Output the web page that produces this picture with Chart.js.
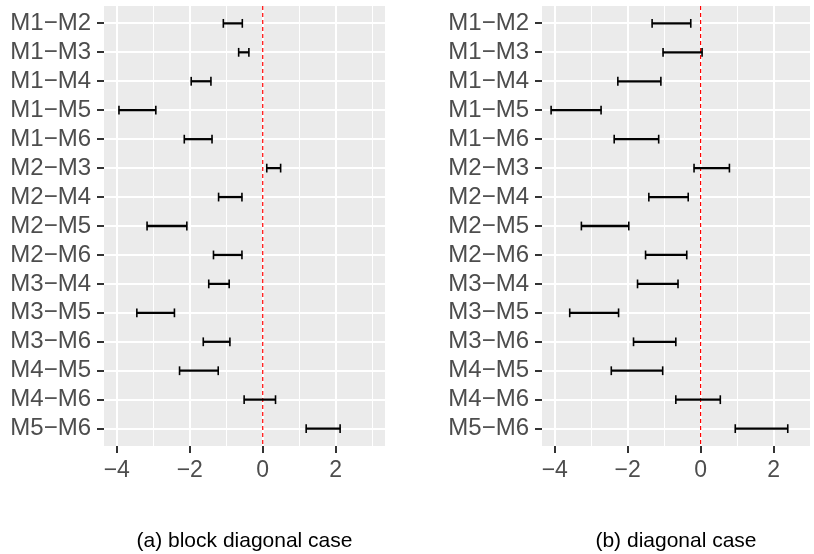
<!DOCTYPE html>
<html>
<head>
<meta charset="utf-8">
<script src="https://cdn.jsdelivr.net/npm/chart.js@4/dist/chart.umd.min.js"></script>
<style>
  html, body { margin: 0; padding: 0; background: #fff; }
  body { width: 814px; height: 554px; position: relative; overflow: hidden; }
  .panel { position: absolute; top: 0; height: 554px; }
  #left { left: 0; width: 400px; }
  #right { left: 407px; width: 407px; }
</style>
</head>
<body>
<div class="panel" id="left"><canvas id="chartA"></canvas></div>
<div class="panel" id="right"><canvas id="chartB"></canvas></div>
<script>
// pairs, top to bottom
const pairs = ['M1−M2', 'M1−M3', 'M1−M4', 'M1−M5', 'M1−M6', 'M2−M3', 'M2−M4',
               'M2−M5', 'M2−M6', 'M3−M4', 'M3−M5', 'M3−M6', 'M4−M5', 'M4−M6', 'M5−M6'];

// (a) block diagonal case: interval bounds
const blockLower = [-1.08, -0.66, -1.96, -3.94, -2.15, 0.11, -1.21, -3.17, -1.35, -1.48, -3.45, -1.63, -2.28, -0.51, 1.19];
const blockUpper = [-0.56, -0.38, -1.42, -2.93, -1.39, 0.49, -0.57, -2.08, -0.57, -0.92, -2.42, -0.90, -1.22, 0.35, 2.12];

// (b) diagonal case: interval bounds
const diagLower = [-1.33, -1.03, -2.27, -4.10, -2.37, -0.18, -1.42, -3.27, -1.51, -1.73, -3.59, -1.84, -2.45, -0.68, 0.95];
const diagUpper = [-0.27, 0.04, -1.09, -2.73, -1.15, 0.79, -0.34, -1.97, -0.38, -0.62, -2.25, -0.68, -1.04, 0.54, 2.39];

const majorTicks = [-4, -2, 0, 2];
const minorTicks = [-3, -1, 1, 3];
const refValue = 0;

Chart.defaults.font.family = "'Liberation Sans', Arial, Helvetica, sans-serif";
Chart.defaults.animation = false;

const panelBg = {
    id: 'panelBg',
    beforeDraw(chart) {
        const a = chart.chartArea, ctx = chart.ctx;
        ctx.save();
        ctx.fillStyle = '#EBEBEB';
        ctx.fillRect(a.left, a.top, a.right - a.left, a.bottom - a.top);
        ctx.restore();
    }
};

const refLine = {
    id: 'refLine',
    beforeDatasetsDraw(chart) {
        const x = chart.scales.x.getPixelForValue(refValue);
        const a = chart.chartArea, ctx = chart.ctx;
        ctx.save();
        ctx.strokeStyle = '#FF0000';
        ctx.lineWidth = 1.2;
        ctx.setLineDash([4, 3]);
        ctx.beginPath();
        ctx.moveTo(x, a.top);
        ctx.lineTo(x, a.bottom);
        ctx.stroke();
        ctx.restore();
    }
};

// end caps of the intervals
const caps = {
    id: 'caps',
    afterDatasetsDraw(chart) {
        const ctx = chart.ctx;
        const meta = chart.getDatasetMeta(0);
        ctx.save();
        ctx.strokeStyle = '#000';
        ctx.lineWidth = 1.6;
        meta.data.forEach(bar => {
            [bar.x, bar.base].forEach(px => {
                ctx.beginPath();
                ctx.moveTo(px, bar.y - 4.4);
                ctx.lineTo(px, bar.y + 4.4);
                ctx.stroke();
            });
        });
        ctx.restore();
    }
};

function makeChart(id, lower, upper, xMin, xMax, axisWidth, padRight, caption) {
    const allTicks = majorTicks.concat(minorTicks).sort((a, b) => a - b);
    const isMajor = v => majorTicks.includes(v);
    new Chart(document.getElementById(id), {
        type: 'bar',
        data: {
            datasets: [{
                data: pairs.map((p, i) => ({ x: [lower[i], upper[i]], y: i })),
                backgroundColor: '#000',
                borderWidth: 0,
                barThickness: 1.6
            }]
        },
        options: {
            indexAxis: 'y',
            responsive: true,
            maintainAspectRatio: false,
            layout: { padding: { top: 6, right: padRight, bottom: 0, left: 0 } },
            plugins: {
                legend: { display: false },
                tooltip: { enabled: false },
                title: {
                    display: true,
                    text: caption,
                    position: 'bottom',
                    fullSize: false,
                    color: '#000',
                    font: { size: 21, weight: 'normal' },
                    padding: { top: 0, bottom: 0 }
                }
            },
            scales: {
                x: {
                    type: 'linear',
                    min: xMin,
                    max: xMax,
                    afterBuildTicks: s => { s.ticks = allTicks.map(v => ({ value: v })); },
                    afterFit: s => { s.height = 82.8; },
                    border: { display: false },
                    grid: {
                        color: '#FFFFFF',
                        lineWidth: c => isMajor(c.tick.value) ? 2 : 1,
                        tickColor: c => isMajor(c.tick.value) ? '#333333' : 'rgba(0,0,0,0)',
                        tickLength: 7,
                        tickWidth: 2
                    },
                    ticks: {
                        autoSkip: false,
                        maxRotation: 0,
                        padding: 4,
                        color: '#4D4D4D',
                        font: { size: 23 },
                        callback: v => isMajor(v) ? (v < 0 ? '−' + Math.abs(v) : String(v)) : ''
                    }
                },
                y: {
                    type: 'linear',
                    reverse: true,
                    offset: false,
                    min: -0.6,
                    max: pairs.length - 0.4,
                    afterBuildTicks: s => { s.ticks = pairs.map((p, i) => ({ value: i })); },
                    afterFit: s => {
                        s.width = axisWidth;
                        s.paddingTop = 0;
                        s.paddingBottom = 0;
                    },
                    border: { display: false },
                    grid: {
                        offset: false,
                        color: '#FFFFFF',
                        lineWidth: 2,
                        tickColor: '#333333',
                        tickLength: 7,
                        tickWidth: 2
                    },
                    ticks: {
                        autoSkip: false,
                        padding: 6,
                        color: '#4D4D4D',
                        font: { size: 24 },
                        callback: v => pairs[v]
                    }
                }
            }
        },
        plugins: [panelBg, refLine, caps]
    });
}

makeChart('chartA', blockLower, blockUpper, -4.35, 3.35, 104, 15, '(a) block diagonal case');
makeChart('chartB', diagLower, diagUpper, -4.35, 3.0, 135, 4, '(b) diagonal case');
</script>
</body>
</html>
